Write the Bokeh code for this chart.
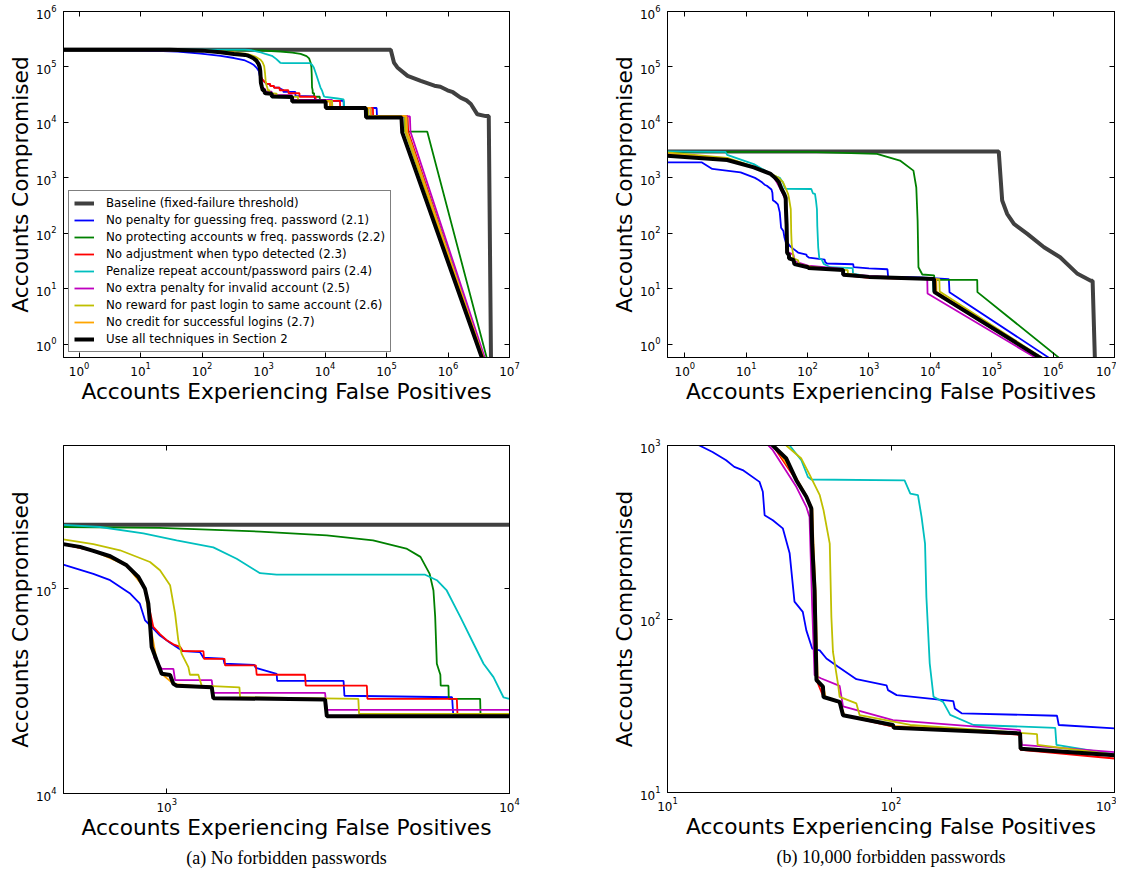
from bokeh.plotting import figure
from bokeh.models import LogAxis, FixedTicker, Title, CustomJSTickFormatter
from bokeh.layouts import column, row
from bokeh.embed import file_html
from bokeh.resources import INLINE

# ---------------- legend / style tables ----------------
labels = ["Baseline (fixed-failure threshold)",
          "No penalty for guessing freq. password (2.1)",
          "No protecting accounts w freq. passwords (2.2)",
          "No adjustment when typo detected (2.3)",
          "Penalize repeat account/password pairs (2.4)",
          "No extra penalty for invalid account (2.5)",
          "No reward for past login to same account (2.6)",
          "No credit for successful logins (2.7)",
          "Use all techniques in Section 2"]
colors = ["#404040", "#0000ff", "#008000", "#ff0000", "#00bfbf",
          "#bf00bf", "#bfbf00", "#ffa500", "#000000"]
widths = [4, 1.8, 1.8, 1.8, 1.8, 1.8, 1.8, 1.8, 4]

# ---------------- (a) no forbidden passwords: (false positives, compromised) ----------------
a_baseline = [(0.5, 2.05e5), (1.17e5, 2.05e5), (1.32e5, 1.2e5), (1.5e5, 9.8e4), (2.2e5, 6.9e4),
              (3.6e5, 5.6e4), (6.0e5, 4.6e4), (7.5e5, 4.4e4), (9.8e5, 3.8e4), (1.2e6, 3.5e4),
              (1.6e6, 2.8e4), (2.0e6, 2.5e4), (2.35e6, 2.15e4), (3.0e6, 1.4e4), (4.1e6, 1.3e4),
              (4.6e6, 1.3e4), (5.0e6, 0.5)]
a_freq_pw = [(0.5, 2.05e5), (10, 2.0e5), (40, 1.9e5), (95, 1.74e5), (200, 1.58e5), (330, 1.45e5),
             (499, 1.31e5), (611, 1.18e5), (684, 1.10e5), (780, 9.5e4), (835, 8.45e4), (865, 7.0e4),
             (904, 6.5e4), (956, 5.9e4), (1023, 5.45e4), (1116, 4.95e4), (1251, 4.9e4), (1280, 4.6e4),
             (1463, 4.55e4), (1475, 4.3e4), (1800, 4.25e4), (1820, 4.1e4), (2093, 3.84e4),
             (2100, 3.55e4), (3280, 3.55e4), (3300, 3.0e4), (6800, 2.95e4), (6850, 2.45e4),
             (2.0e4, 2.45e4), (2.02e4, 1.82e4), (6.9e4, 1.82e4), (7.0e4, 1.28e4), (2.0e5, 1.28e4),
             (2.05e5, 6.8e3), (3.9e6, 0.55)]
a_protect = [(0.5, 2.05e5), (100, 2.04e5), (499, 2.0e5), (956, 1.98e5), (1872, 1.9e5), (2931, 1.82e5),
             (4000, 1.72e5), (5000, 1.57e5), (5500, 1.43e5), (5850, 1.18e5), (6000, 9.8e4),
             (6070, 7.3e4), (6138, 4.3e4), (6285, 3.8e4), (6300, 3.36e4), (6637, 3.36e4),
             (6650, 2.9e4), (8210, 2.9e4), (8230, 2.45e4), (1.2e4, 2.45e4), (1.21e4, 1.82e4),
             (5.0e4, 1.82e4), (5.05e4, 1.3e4), (2.0e5, 1.3e4), (2.02e5, 6.8e3), (4.6e5, 6.8e3),
             (4.3e6, 0.55)]
a_typo = [(0.5, 2.05e5), (100, 2.0e5), (300, 1.85e5), (499, 1.65e5), (611, 1.53e5), (684, 1.44e5),
          (764, 1.30e5), (827, 1.14e5), (864, 1.0e5), (884, 8.45e4), (914, 6.5e4), (956, 6.0e4),
          (1000, 5.6e4), (1046, 5.35e4), (1094, 5.2e4), (1116, 4.95e4), (1280, 4.95e4),
          (1285, 4.54e4), (1475, 4.54e4), (1480, 4.22e4), (1820, 4.22e4), (1830, 3.8e4),
          (2533, 3.8e4), (2545, 3.36e4), (3836, 3.36e4), (3850, 2.9e4), (7020, 2.9e4),
          (7050, 2.45e4), (1.75e4, 2.45e4), (1.76e4, 1.82e4), (6.0e4, 1.82e4), (6.05e4, 1.3e4),
          (2.2e5, 1.3e4), (2.25e5, 6.8e3), (3.9e6, 0.55)]
a_repeat = [(0.5, 2.05e5), (499, 2.05e5), (639, 2.0e5), (855, 1.86e5), (1069, 1.72e5), (1368, 1.59e5),
            (1600, 1.40e5), (1872, 1.19e5), (2093, 1.17e5), (5675, 1.17e5), (6138, 1.10e5),
            (6560, 9.8e4), (7180, 7.3e4), (7850, 5.4e4), (8400, 4.3e4), (8980, 3.7e4),
            (9600, 2.95e4), (1.0e4, 2.9e4), (1.6e4, 2.7e4), (2.0e4, 2.6e4), (2.05e4, 1.82e4),
            (5.5e4, 1.82e4), (5.55e4, 1.3e4), (2.1e5, 1.3e4), (2.15e5, 6.8e3), (3.9e6, 0.55)]
a_invalid = [(0.5, 2.05e5), (100, 1.97e5), (200, 1.85e5), (330, 1.72e5), (499, 1.65e5), (611, 1.53e5),
             (684, 1.44e5), (764, 1.30e5), (827, 1.14e5), (864, 1.0e5), (884, 8.45e4), (894, 6.75e4),
             (920, 4.6e4), (967, 4.06e4), (1046, 4.06e4), (1058, 3.58e4), (1353, 3.58e4),
             (1368, 3.1e4), (2897, 3.1e4), (2932, 2.56e4), (1.3e4, 2.56e4), (1.31e4, 1.82e4),
             (5.5e4, 1.82e4), (5.55e4, 1.28e4), (2.4e5, 1.28e4), (2.45e5, 6.8e3), (4.0e6, 0.55)]
a_reward = [(0.5, 2.05e5), (100, 2.0e5), (300, 1.85e5), (499, 1.74e5), (611, 1.65e5), (731, 1.54e5),
            (894, 1.35e5), (956, 1.23e5), (1023, 1.04e5), (1058, 7.55e4), (1081, 5.6e4),
            (1106, 4.8e4), (1157, 4.14e4), (1169, 3.8e4), (1237, 3.8e4), (1265, 3.36e4),
            (1630, 3.3e4), (1637, 2.95e4), (3622, 2.9e4), (3640, 2.45e4), (1.3e4, 2.45e4),
            (1.31e4, 1.82e4), (5.0e4, 1.82e4), (5.05e4, 1.3e4), (2.0e5, 1.3e4), (2.02e5, 6.8e3),
            (3.8e6, 0.55)]
a_credit = [(0.5, 2.05e5), (100, 1.97e5), (330, 1.72e5), (499, 1.65e5), (611, 1.53e5), (764, 1.30e5),
            (864, 1.0e5), (894, 6.75e4), (935, 4.46e4), (967, 3.84e4), (1046, 3.43e4),
            (1353, 3.30e4), (1368, 2.92e4), (2897, 2.88e4), (2932, 2.38e4), (1.2e4, 2.38e4),
            (1.21e4, 1.82e4), (5.5e4, 1.82e4), (5.55e4, 1.3e4), (2.1e5, 1.3e4), (2.15e5, 6.8e3),
            (3.8e6, 0.55)]
a_all = [(0.5, 2.05e5), (30, 2.04e5), (100, 1.97e5), (200, 1.85e5), (330, 1.72e5), (499, 1.65e5),
         (558, 1.6e5), (611, 1.53e5), (684, 1.44e5), (764, 1.30e5), (827, 1.14e5), (864, 1.0e5),
         (884, 8.45e4), (894, 6.75e4), (904, 5.19e4), (935, 4.46e4), (967, 3.84e4), (1023, 3.79e4),
         (1046, 3.43e4), (1069, 3.36e4), (1353, 3.30e4), (1368, 2.92e4), (2897, 2.88e4),
         (2932, 2.38e4), (1.02e4, 2.38e4), (1.03e4, 1.82e4), (4.6e4, 1.82e4), (4.65e4, 1.23e4),
         (1.75e5, 1.23e4), (1.8e5, 6.6e3), (3.6e6, 0.55)]

# ---------------- (b) 10,000 forbidden passwords ----------------
b_baseline = [(0.5, 3.0e3), (1.3e5, 3.0e3), (1.38e5, 1.17e3), (1.48e5, 390), (1.78e5, 225),
              (2.3e5, 148), (3.8e5, 98), (7.1e5, 56), (1.3e6, 37), (2.5e6, 18.6), (4.1e6, 14),
              (4.4e6, 14), (4.8e6, 0.5)]
b_freq_pw = [(0.5, 1.9e3), (1.9, 1.9e3), (2.8, 1.45e3), (8.1, 1.26e3), (13.9, 1.0e3), (15.9, 917),
             (18.3, 822), (19.9, 753), (21.7, 722), (25.8, 617), (26.7, 541), (27.2, 396),
             (29.6, 371), (32.8, 333), (35.2, 239), (37, 126), (40.3, 110), (41.8, 86), (44.4, 67.6),
             (48, 66), (51.4, 59.2), (58, 53), (70, 45), (95.5, 41.5), (97, 38.9), (106, 36.4),
             (190, 33.6), (193, 30.5), (207, 28.6), (553, 27.7), (563, 24.5), (1000, 23.4),
             (2.0e3, 22.5), (2.05e3, 16.5), (6.9e3, 16.0), (2.0e4, 15.0), (2.05e4, 8.7),
             (9.0e5, 0.55)]
b_protect = [(0.5, 2.95e3), (100, 2.95e3), (1.35e3, 2.7e3), (3.2e3, 2.05e3), (5.3e3, 1.35e3),
             (5.9e3, 670), (6.2e3, 170), (6.4e3, 24.5), (7.4e3, 18.1), (1.15e4, 17.5),
             (1.17e4, 14.5), (5.8e4, 14.5), (5.85e4, 8.7), (1.3e6, 0.55)]
b_typo = [(0.5, 2.5e3), (4.9, 2.1e3), (13.3, 1.55e3), (25, 1.18e3), (29.6, 1.0e3), (37.7, 631),
          (41.8, 506), (44, 434), (44.4, 272), (45.5, 146), (46.4, 44.5), (49.9, 35.5),
          (58.9, 33.3), (61, 27.9), (102, 24.0), (378, 21.5), (380, 17.6), (1000, 15.7),
          (1.15e4, 14.8), (1.16e4, 8.6), (6.2e5, 0.55)]
b_repeat = [(0.5, 3.0e3), (4.6, 2.95e3), (4.9, 2.6e3), (13.3, 1.77e3), (28, 1.1e3), (35.2, 1.0e3),
            (39.7, 822), (42.5, 658), (44, 637), (115, 630), (122, 528), (132, 517), (137, 388),
            (142, 272), (144, 134), (149, 55.5), (155, 35.6), (171, 33.3), (184, 28), (234, 24.5),
            (543, 23.6), (550, 18.8), (1000, 16.6), (1.1e4, 15.2), (1.12e4, 9.0), (7.0e5, 0.55)]
b_invalid = [(0.5, 2.5e3), (4.9, 2.1e3), (13.3, 1.55e3), (25, 1.18e3), (29.6, 940), (37.7, 578),
             (41.8, 443), (43.2, 387), (44.4, 117), (45.5, 47.4), (48.8, 45.4), (58.9, 41.2),
             (61, 31.4), (102, 26.1), (378, 22.9), (385, 18.8), (1000, 17.1), (8.9e3, 15.3),
             (9.0e3, 8.2), (5.5e5, 0.55)]
b_reward = [(0.5, 2.9e3), (4.9, 2.3e3), (13.3, 1.6e3), (25, 1.2e3), (34, 1.0e3), (39.7, 841),
            (43, 689), (48, 517), (49.9, 424), (53.2, 272), (54.1, 103), (55, 64.6), (58, 41.7),
            (58.9, 35.6), (70, 32.6), (72.4, 27.9), (122, 24.5), (450, 21.7), (453, 18.8),
            (1000, 16.5), (1.4e4, 15.0), (1.42e4, 8.9), (7.0e5, 0.55)]
b_credit = [(0.5, 2.7e3), (4.9, 2.2e3), (13.3, 1.58e3), (25, 1.19e3), (30, 1.0e3), (38, 640),
            (42, 510), (44.5, 430), (45, 270), (46, 140), (47, 44), (50, 40), (51, 35), (59, 33),
            (62, 27.8), (103, 24.2), (380, 21.7), (382, 17.8), (1000, 16.3), (1.25e4, 15.0),
            (1.26e4, 8.8), (6.7e5, 0.55)]
b_all = [(0.5, 2.5e3), (4.9, 2.1e3), (13.3, 1.55e3), (25, 1.18e3), (29.6, 1.0e3), (34, 841),
         (37.7, 631), (41.8, 506), (44, 434), (44.4, 272), (45.5, 146), (46.4, 44.5), (49.6, 40.7),
         (49.9, 35.5), (58.9, 33.3), (61, 27.9), (102, 24.5), (103, 23.6), (378, 21.9),
         (380, 17.9), (1000, 16.4), (1.15e4, 15.0), (1.17e4, 8.7), (6.5e5, 0.55)]

series_a = [a_baseline, a_freq_pw, a_protect, a_typo, a_repeat, a_invalid, a_reward, a_credit, a_all]
series_b = [b_baseline, b_freq_pw, b_protect, b_typo, b_repeat, b_invalid, b_reward, b_credit, b_all]

ticks_full_x = [1, 10, 100, 1e3, 1e4, 1e5, 1e6, 1e7]
ticks_full_y = [1, 10, 100, 1e3, 1e4, 1e5, 1e6]
ticks_zoom_a_x = [1e3, 1e4]
ticks_zoom_a_y = [1e4, 1e5]
ticks_zoom_b = [10, 100, 1e3]

FONT = "DejaVu Sans"


def style_axis(ax, hidden=False):
    ax.axis_line_color = "black"
    ax.major_tick_line_color = "black"
    ax.major_tick_in = 5
    ax.major_tick_out = 0
    ax.minor_tick_in = 0
    ax.minor_tick_out = 0
    ax.minor_tick_line_color = None
    ax.major_label_text_font = FONT
    ax.major_label_text_color = "black"
    if hidden:
        ax.formatter = CustomJSTickFormatter(code="return ' ';")
        ax.major_label_text_font_size = "1px"
        ax.major_label_text_color = None
        ax.major_label_standoff = 0
        ax.axis_label = None
    else:
        ax.major_label_text_font_size = "12px"
        ax.axis_label_text_font = FONT
        ax.axis_label_text_font_size = "21.7px"
        ax.axis_label_text_font_style = "normal"
        ax.axis_label_text_color = "black"


def panel(fw, fh, xr, yr, xt, yt, bl, br, bt, bb, data, legend=False, caption=None):
    p = figure(frame_width=fw, frame_height=fh, x_axis_type="log", y_axis_type="log",
               x_range=xr, y_range=yr, output_backend="svg", toolbar_location=None,
               min_border_left=bl, min_border_right=br, min_border_top=bt, min_border_bottom=bb,
               background_fill_color="white", border_fill_color="white")
    p.grid.visible = False
    p.outline_line_color = "black"
    p.outline_line_width = 1
    xa = p.xaxis[0]
    ya = p.yaxis[0]
    xa.ticker = FixedTicker(ticks=xt, minor_ticks=[])
    ya.ticker = FixedTicker(ticks=yt, minor_ticks=[])
    style_axis(xa)
    style_axis(ya)
    xa.axis_label = "Accounts Experiencing False Positives"
    ya.axis_label = "Accounts Compromised"
    xa.major_label_standoff = 4
    ya.major_label_standoff = 7
    xa.axis_label_standoff = 0
    ya.axis_label_standoff = 0
    top = LogAxis(ticker=FixedTicker(ticks=xt, minor_ticks=[]))
    style_axis(top, hidden=True)
    p.add_layout(top, "above")
    right = LogAxis(ticker=FixedTicker(ticks=yt, minor_ticks=[]))
    style_axis(right, hidden=True)
    p.add_layout(right, "right")

    for pts, lab, col, w in zip(data, labels, colors, widths):
        xs = [q[0] for q in pts]
        ys = [q[1] for q in pts]
        if legend:
            p.line(xs, ys, line_color=col, line_width=w, legend_label=lab)
        else:
            p.line(xs, ys, line_color=col, line_width=w)

    if legend:
        lg = p.legend[0]
        lg.location = (5, 5)
        lg.margin = 0
        lg.padding = 5
        lg.spacing = 3
        lg.glyph_width = 20
        lg.glyph_height = 14
        lg.label_height = 14
        lg.label_standoff = 12
        lg.label_text_font = FONT
        lg.label_text_font_size = "11.8px"
        lg.label_text_color = "black"
        lg.border_line_color = "black"
        lg.border_line_width = 1
        lg.background_fill_alpha = 1.0
        lg.background_fill_color = "white"

    if caption:
        t = Title(text=caption, align="center", text_font="Liberation Serif",
                  text_font_size="18px", text_font_style="normal", text_color="black",
                  standoff=6)
        p.add_layout(t, "below")
    return p


tl = panel(446, 346, (0.557, 1.0e7), (0.577, 1.0e6), ticks_full_x, ticks_full_y,
           63, 73, 11, 53, series_a, legend=True)
tr = panel(447, 346, (0.522, 1.0e7), (0.577, 1.0e6), ticks_full_x, ticks_full_y,
           85, 2, 11, 53, series_b)
bl = panel(446, 348, (500, 1.0e4), (1.0e4, 5.0e5), ticks_zoom_a_x, ticks_zoom_a_y,
           63, 73, 35, 60, series_a, caption="(a) No forbidden passwords")
br = panel(447, 347, (10, 1000), (10, 1000), ticks_zoom_b, ticks_zoom_b,
           85, 2, 35, 60, series_b, caption="(b) 10,000 forbidden passwords")

layout = column(row(tl, tr), row(bl, br))
open("out.html", "w").write(file_html(layout, INLINE))
